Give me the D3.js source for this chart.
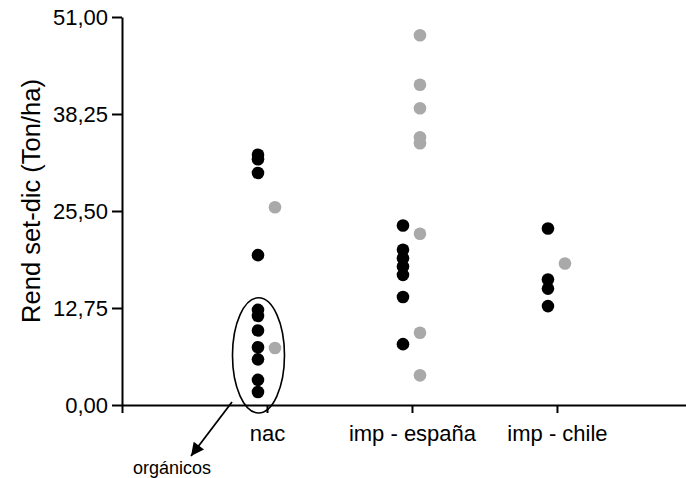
<!DOCTYPE html>
<html>
<head>
<meta charset="utf-8">
<script src="https://cdn.jsdelivr.net/npm/d3@7"></script>
<style>
  html, body { margin: 0; padding: 0; background: #fff; }
  svg { display: block; }
  text { font-family: "Liberation Sans", Arial, sans-serif; fill: #000; }
</style>
</head>
<body>
<svg id="chart" width="686" height="478"></svg>
<script>
// ---- data ----
const categories = ["nac", "imp - españa", "imp - chile"];
const yTickValues = [0, 12.75, 25.5, 38.25, 51];
const yTitle = "Rend set-dic (Ton/ha)";
const annotationText = "orgánicos";

const nacBlack = [32.9, 32.3, 30.5, 19.7, 12.5, 11.7, 9.8, 7.6, 6.0, 3.3, 1.7];
const nacGray  = [26.0, 7.5];
const espBlack = [23.6, 20.4, 19.3, 18.2, 17.1, 14.2, 8.0];
const espGray  = [48.6, 42.1, 39.0, 35.2, 34.4, 22.5, 9.5, 3.9];
const chiBlack = [23.2, 16.5, 15.3, 13.0];
const chiGray  = [18.6];

const blackSeries = [nacBlack, espBlack, chiBlack];
const graySeries  = [nacGray, espGray, chiGray];

// ---- layout ----
const svg = d3.select("#chart");
const x = d3.scaleLinear().domain([0, 3.89]).range([122, 686]);
const y = d3.scaleLinear().domain([0, 51]).range([405, 17]);
const blackOffset = -9, grayOffset = 8, r = 6.3;

const fmt = v => d3.format(".2f")(v).replace(".", ",");

// y axis
const yAxis = svg.append("g")
  .attr("transform", `translate(${x(0)},0)`)
  .call(d3.axisLeft(y).tickValues(yTickValues).tickFormat(fmt).tickSize(10).tickPadding(4).tickSizeOuter(0));
yAxis.select(".domain").attr("stroke", "#000").attr("stroke-width", 2);
yAxis.selectAll(".tick line").attr("stroke", "#000").attr("stroke-width", 2);
yAxis.selectAll(".tick text").attr("font-size", 22).attr("font-family", "Liberation Sans, Arial, sans-serif");

// x axis
const xAxis = svg.append("g")
  .attr("transform", `translate(0,${y(0)})`)
  .call(d3.axisBottom(x).tickValues([0, 1, 2, 3])
    .tickFormat(d => d === 0 ? "" : categories[d - 1])
    .tickSize(8).tickPadding(12).tickSizeOuter(0));
xAxis.select(".domain").attr("stroke", "#000").attr("stroke-width", 2);
xAxis.selectAll(".tick line").attr("stroke", "#000").attr("stroke-width", 2);
xAxis.selectAll(".tick text").attr("font-size", 22).attr("font-family", "Liberation Sans, Arial, sans-serif");

// y title
svg.append("text")
  .attr("transform", `translate(40,${(y(0) + y(51)) / 2 - 10}) rotate(-90)`)
  .attr("text-anchor", "middle")
  .attr("font-size", 25.5)
  .text(yTitle);

// points
blackSeries.forEach((vals, i) => {
  svg.append("g").selectAll("circle").data(vals).join("circle")
    .attr("cx", x(i + 1) + blackOffset)
    .attr("cy", d => y(d))
    .attr("r", r)
    .attr("fill", "#000");
});
graySeries.forEach((vals, i) => {
  svg.append("g").selectAll("circle").data(vals).join("circle")
    .attr("cx", x(i + 1) + grayOffset)
    .attr("cy", d => y(d))
    .attr("r", r)
    .attr("fill", "#a9a9a9");
});

// annotation ellipse around organic "nac" points
const eTop = y(14.1), eBot = y(-1.05);
svg.append("ellipse")
  .attr("cx", x(1) + blackOffset + 0.5)
  .attr("cy", (eTop + eBot) / 2)
  .attr("rx", 26)
  .attr("ry", (eBot - eTop) / 2)
  .attr("fill", "none")
  .attr("stroke", "#000")
  .attr("stroke-width", 1.6);

// arrow
svg.append("defs").append("marker")
  .attr("id", "arrowhead")
  .attr("viewBox", "0 0 10 10")
  .attr("refX", 10).attr("refY", 5)
  .attr("markerWidth", 16).attr("markerHeight", 13)
  .attr("markerUnits", "userSpaceOnUse")
  .attr("orient", "auto")
  .append("path").attr("d", "M0,0 L10,5 L0,10 Z").attr("fill", "#000");

svg.append("line")
  .attr("x1", 232).attr("y1", y(0) - 3)
  .attr("x2", 191).attr("y2", 456)
  .attr("stroke", "#000").attr("stroke-width", 1.8)
  .attr("marker-end", "url(#arrowhead)");

svg.append("text")
  .attr("x", 133).attr("y", 474)
  .attr("font-size", 18)
  .text(annotationText);
</script>
</body>
</html>
